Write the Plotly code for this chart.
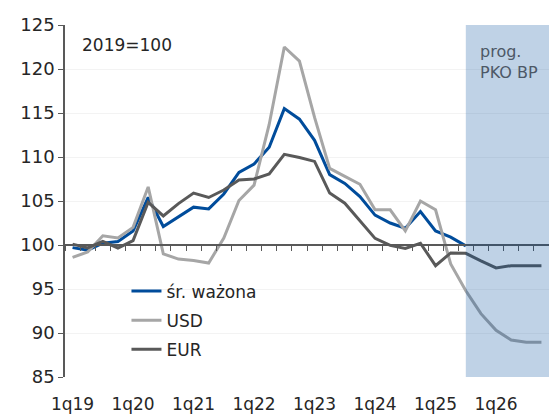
import plotly.graph_objects as go

quarters = [f"{q}q{y}" for y in range(19, 27) for q in range(1, 5)]
tick_labels = [f"1q{y}" for y in range(19, 27)]

avg_weighted = [99.7, 99.4, 100.2, 100.4, 101.6, 105.4, 102.1, 103.2, 104.3, 104.1,
                105.8, 108.25, 109.2, 111.1, 115.5, 114.3, 111.9, 108.0, 107.0, 105.5,
                103.4, 102.5, 101.9, 103.8, 101.6, 100.9, 99.9]
usd = [98.6, 99.2, 101.05, 100.8, 102.0, 106.6, 99.0, 98.4, 98.25, 97.95,
       100.8, 105.05, 106.8, 113.7, 122.5, 120.9, 114.5, 108.7, 107.8, 106.9,
       104.0, 104.0, 101.6, 105.0, 104.0, 97.84, 94.8, 92.2, 90.3, 89.2, 88.95, 88.95]
eur = [100.1, 99.66, 100.4, 99.66, 100.5, 104.85, 103.3, 104.7, 105.9, 105.4,
       106.25, 107.4, 107.5, 108.07, 110.3, 109.95, 109.5, 105.9, 104.75, 102.8,
       100.75, 99.95, 99.6, 100.2, 97.65, 99.1, 99.05, 98.2, 97.4, 97.65, 97.65, 97.65]

forecast_start = "3q25"
y_min, y_max = 85, 125
base_level = 100

FONT = "DejaVu Sans"
n = len(quarters)
fig = go.Figure()
fig.add_trace(go.Scatter(x=quarters[:len(avg_weighted)], y=avg_weighted, mode="lines",
                         name="śr. ważona", line=dict(color="#004C9B", width=3),
                         legendgroup="a"))
fig.add_trace(go.Scatter(x=quarters, y=usd, mode="lines", name="USD",
                         line=dict(color="#A6A6A6", width=3), legendgroup="b"))
fig.add_trace(go.Scatter(x=quarters, y=eur, mode="lines", name="EUR",
                         line=dict(color="#595959", width=3), legendgroup="c"))
# helper (invisible) trace so the 100-level axis with quarter tick marks is drawn
fig.add_trace(go.Scatter(x=list(range(n)), y=eur, xaxis="x2", mode="lines",
                         line=dict(width=0), opacity=0, showlegend=False,
                         hoverinfo="skip"))

fs_idx = quarters.index(forecast_start)
fig.add_shape(type="rect", xref="x", yref="paper", x0=fs_idx, x1=n - 0.5,
              y0=0, y1=1, fillcolor="rgba(0,76,155,0.25)", line=dict(width=0),
              layer="above")

fig.add_annotation(text="prog.<br>PKO BP", xref="x", yref="paper", x=fs_idx + 0.8,
                   y=0.957, xanchor="left", yanchor="top", showarrow=False, align="left",
                   font=dict(family=FONT, size=16, color="#4d5866"))
fig.add_annotation(text="2019=100", xref="paper", yref="paper", x=0.03, y=0.976,
                   xanchor="left", yanchor="top", showarrow=False,
                   font=dict(family=FONT, size=17, color="#262626"))

fig.update_layout(
    width=549, height=414,
    margin=dict(l=65, r=0, t=25, b=37),
    paper_bgcolor="white", plot_bgcolor="white",
    font=dict(family=FONT, size=17, color="#262626"),
    showlegend=True,
    legend=dict(x=0.127, y=0.294, xanchor="left", yanchor="top",
                bgcolor="rgba(0,0,0,0)", font=dict(family=FONT, size=17, color="#262626"),
                traceorder="grouped", tracegroupgap=4),
    xaxis=dict(type="category", categoryorder="array", categoryarray=quarters,
               range=[-0.5, n - 0.5], tickmode="array", tickvals=tick_labels,
               ticktext=tick_labels, ticks="outside", ticklen=12,
               tickcolor="rgba(0,0,0,0)", showline=False, showgrid=False,
               zeroline=False, tickfont=dict(family=FONT, size=17, color="#262626")),
    xaxis2=dict(overlaying="x", anchor="free",
                position=(base_level - y_min) / (y_max - y_min),
                range=[-0.5, n - 0.5], tick0=0.5, dtick=1,
                ticks="outside", ticklen=5, tickcolor="#595959", tickwidth=1,
                showline=True, linecolor="#595959", linewidth=1.5,
                showticklabels=False, showgrid=False, zeroline=False),
    yaxis=dict(range=[y_min, y_max], dtick=5, ticks="outside", ticklen=5,
               tickcolor="#595959", showline=True, linecolor="#595959", linewidth=1.5,
               showgrid=True, gridcolor="#F3F3F3", zeroline=False,
               tickfont=dict(family=FONT, size=18, color="#262626")),
)

fig.write_html("out.html",
               config={"displayModeBar": False},
               post_script="document.body.style.margin='0';"
                           "document.body.style.overflow='hidden';")
